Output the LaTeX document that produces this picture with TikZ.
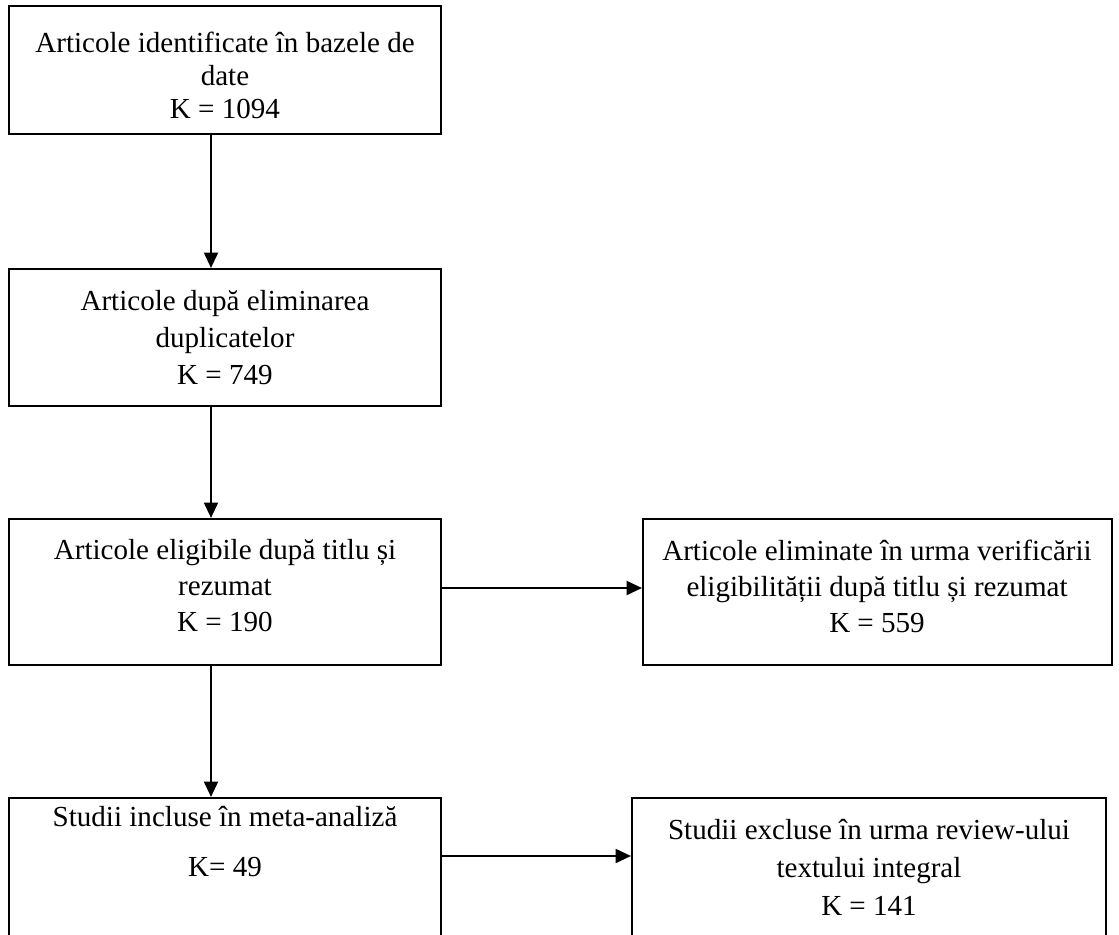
\documentclass[tikz,border=0pt]{standalone}
\usepackage{fontspec}
\setmainfont{Liberation Serif}
\usetikzlibrary{arrows.meta,fit}
\begin{document}
\begin{tikzpicture}[x=0.75pt,y=-0.75pt,
  box/.style={draw=black, line width=1.6pt, inner sep=0pt},
  txt/.style={align=center, inner sep=0pt},
  arr/.style={line width=1.5pt, -{Triangle[length=11.5pt,width=10.5pt]}}]
\clip (0,0) rectangle (1119,934);

% boxes
\node[box, fit={(9,6) (441,134)}]     (b1) {};
\node[box, fit={(9,269) (441,406)}]   (b2) {};
\node[box, fit={(9,519) (441,665)}]   (b3) {};
\node[box, fit={(643,519) (1112,665)}] (b4) {};
\node[box, fit={(9,798) (441,960)}]   (b5) {};
\node[box, fit={(632,798) (1106,960)}] (b6) {};

% texts
\node[txt, font=\fontsize{21.8}{24.75}\selectfont] (t1) at (225,75)
  {Articole identificate în bazele de\\date\\K = 1094};
\node[txt, font=\fontsize{21.8}{27.75}\selectfont] (t2) at (225,338)
  {Articole după eliminarea\\duplicatelor\\K = 749};
\node[txt, font=\fontsize{21.8}{27}\selectfont] (t3) at (225,586)
  {Articole eligibile după titlu și\\rezumat\\K = 190};
\node[txt, font=\fontsize{21.8}{27}\selectfont] (t4) at (877,586)
  {Articole eliminate în urma verificării\\eligibilității după titlu și rezumat\\K = 559};
\node[txt, font=\fontsize{21.8}{37.5}\selectfont] (t5) at (225,842)
  {Studii incluse în meta-analiză\\K= 49};
\node[txt, font=\fontsize{21.8}{28.5}\selectfont] (t6) at (869,867)
  {Studii excluse în urma review-ului\\textului integral\\K = 141};

% connectors
\coordinate (ax) at (211,0);
\coordinate (ay1) at (0,588);
\coordinate (ay2) at (0,856);
\draw[arr] (b1.south -| ax) -- (b2.north -| ax);
\draw[arr] (b2.south -| ax) -- (b3.north -| ax);
\draw[arr] (b3.south -| ax) -- (b5.north -| ax);
\draw[arr] (b3.east |- ay1) -- (b4.west |- ay1);
\draw[arr] (b5.east |- ay2) -- (b6.west |- ay2);
\end{tikzpicture}
\end{document}
